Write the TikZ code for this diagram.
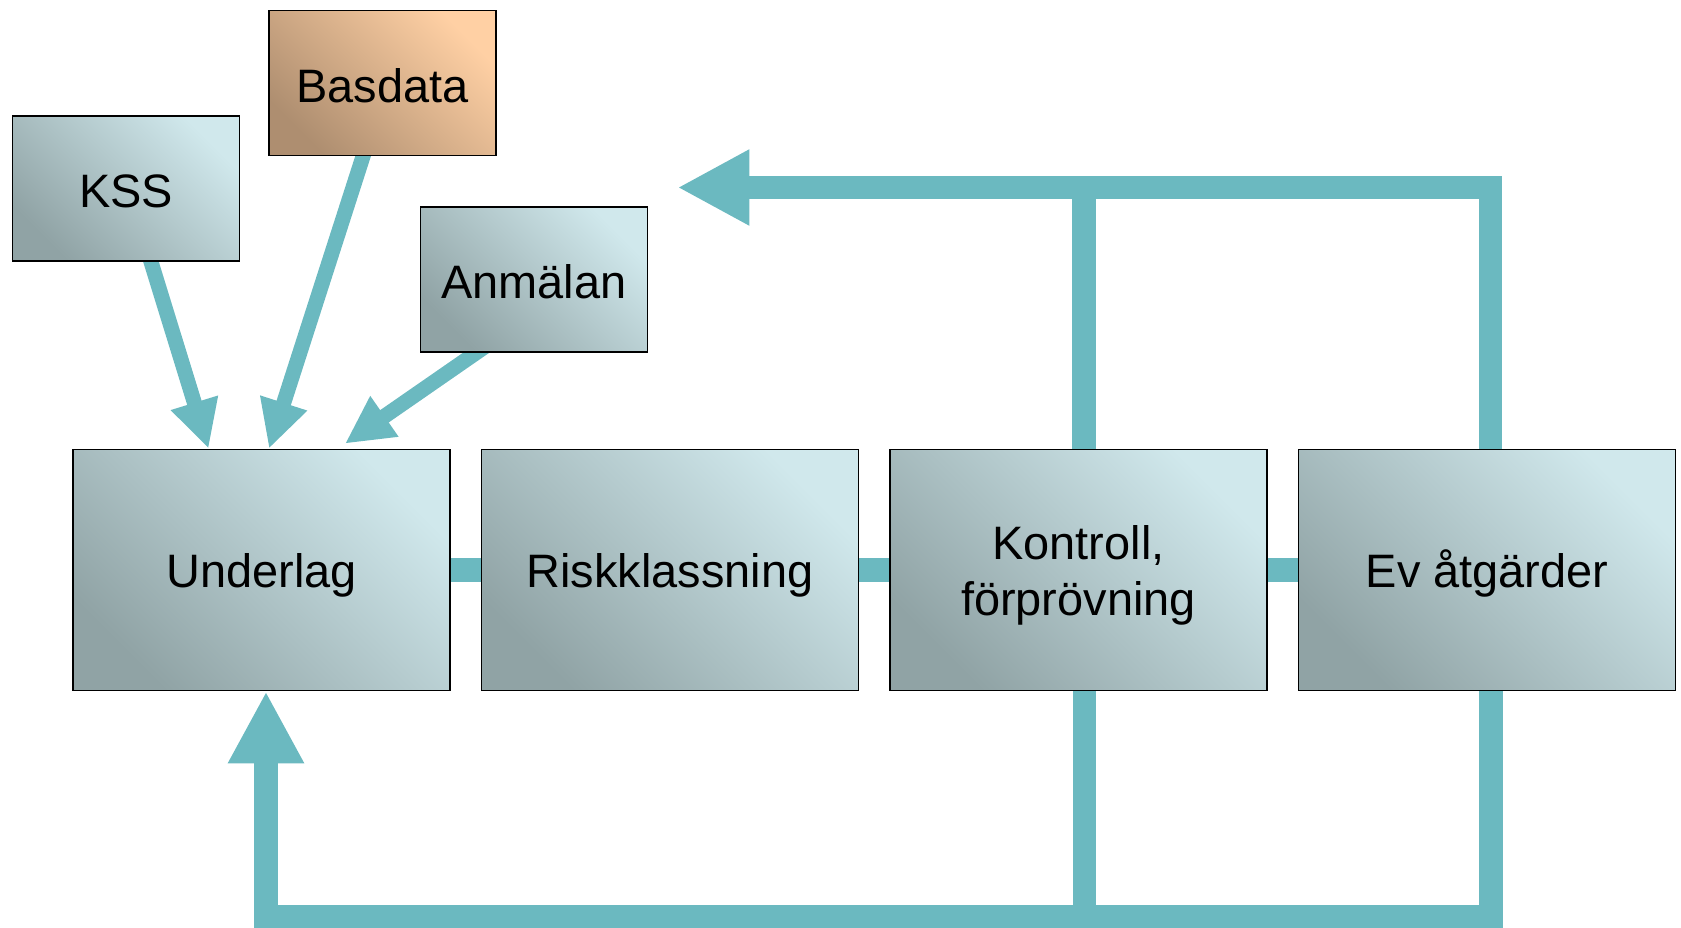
\documentclass[tikz,border=0pt]{standalone}
\usepackage{fontspec}
\setmainfont{Liberation Sans}
\usetikzlibrary{arrows.meta,backgrounds}
\definecolor{flow}{HTML}{6BB9C0}
\definecolor{boxlight}{HTML}{D0E8EC}
\definecolor{boxdark}{HTML}{90A3A5}
\definecolor{baslight}{HTML}{FFD0A4}
\definecolor{basdark}{HTML}{AE8E70}
\newcommand{\boxstrut}{\rule{0pt}{25.4pt}}
\tikzset{
  box/.style={draw, line width=1pt, inner sep=0pt, align=center,
    top color=boxlight, bottom color=boxdark, shading angle=-45,
    font=\fontsize{26.7}{32}\selectfont},
  mainbox/.style={box, minimum width=7.54cm, minimum height=4.82cm},
  smallbox/.style={box, minimum width=4.54cm, minimum height=2.9cm,
    execute at begin node={\rule{0pt}{22.2pt}}},
  feed/.style={draw=flow, line width=0.47cm},
  feedarrow/.style={feed, -{Triangle[width=1.42cm,length=1.44cm]}},
  inarrow/.style={draw=flow, line width=0.3cm, shorten <=-0.3cm,
    -{Triangle[width=0.92cm,length=0.96cm]}}
}
\begin{document}
\begin{tikzpicture}[x=0.02cm,y=-0.02cm]
\useasboundingbox (0,0) rectangle (1681,928);
\node[smallbox] (kss) at (126,188.5) {KSS};
\node[smallbox, top color=baslight, bottom color=basdark, shading angle=-45] (bas) at (382.5,83) {Basdata};
\node[smallbox] (anm) at (534,279.5) {Anmälan};
\node[mainbox] (und) at (261.5,570) {\boxstrut Underlag};
\node[mainbox] (risk) at (670,570) {\boxstrut Riskklassning};
\node[mainbox] (kon) at (1078.5,570) {\boxstrut Kontroll,\\förprövning};
\node[mainbox] (ev) at (1487,570) {\boxstrut Ev åtgärder};
% inflow to Underlag
\begin{scope}[on background layer]
\draw[inarrow] ([xshift=0.5cm]kss.south) -- ([xshift=-1.06cm]und.north);
\draw[inarrow] ([xshift=-0.39cm]bas.south) -- ([xshift=0.15cm]und.north);
\draw[inarrow] ([xshift=-1.16cm]anm.south) -- ([xshift=1.67cm,yshift=0.1cm]und.north);
\end{scope}
% chain
\draw[feed] (und.east) -- (risk.west);
\draw[feed] (risk.east) -- (kon.west);
\draw[feed] (kon.east) -- (ev.west);
% feedback
\coordinate (tipL) at (677.5,187.5);
\coordinate (base) at (0,916.5);
\coordinate (kup) at ([xshift=0.11cm]kon.north);
\coordinate (kdn) at ([xshift=0.12cm]kon.south);
\coordinate (evup) at ([xshift=0.07cm]ev.north);
\coordinate (evdn) at ([xshift=0.08cm]ev.south);
\coordinate (unddn) at ([xshift=0.09cm]und.south);
\draw[feedarrow] (evup) |- (tipL);
\draw[feed] (kup) -- (kup |- tipL);
\draw[feedarrow] (evdn) -- (evdn |- base) -- (unddn |- base) -- (unddn);
\draw[feed] (kdn) -- (kdn |- base);
\end{tikzpicture}
\end{document}
